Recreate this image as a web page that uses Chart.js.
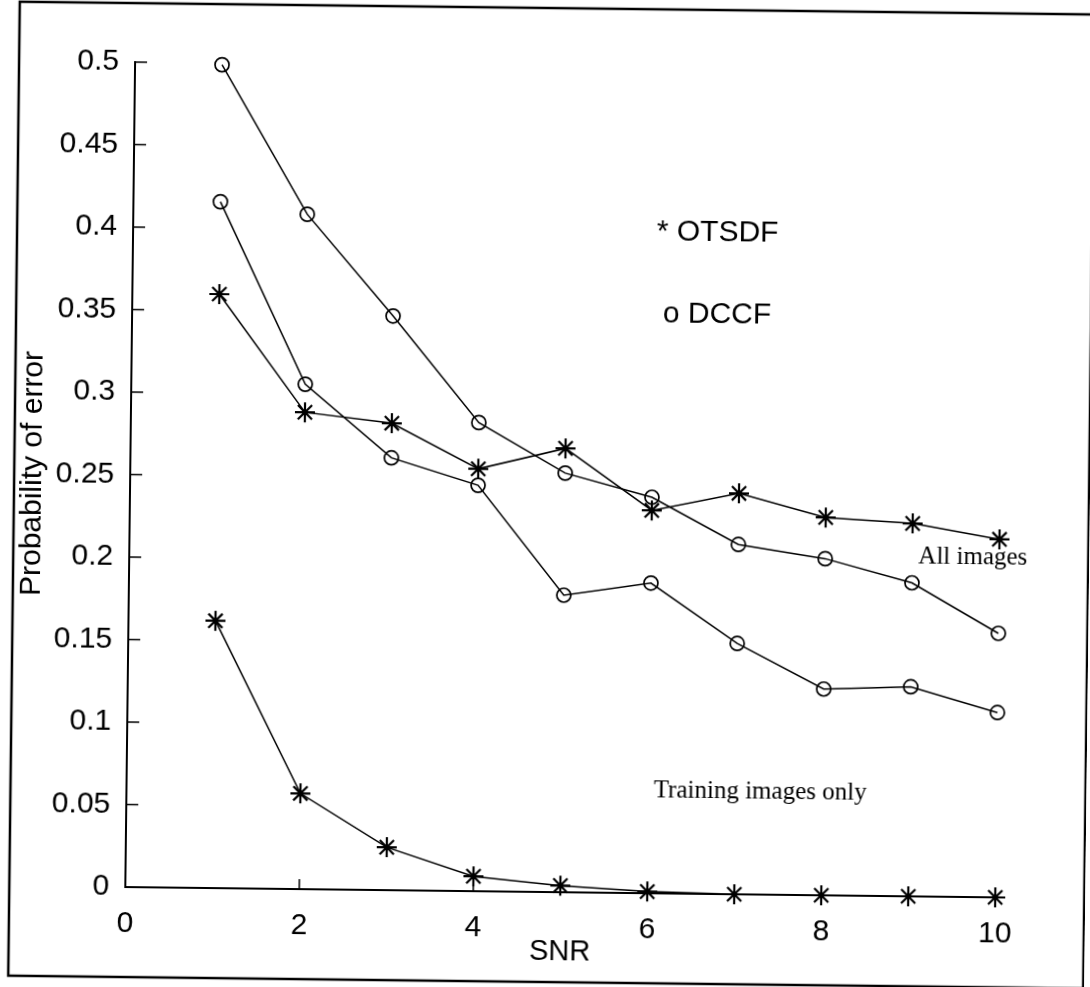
<!DOCTYPE html>
<html>
<head>
<meta charset="utf-8">
<script src="https://cdn.jsdelivr.net/npm/chart.js@4.4.1/dist/chart.umd.min.js"></script>
<style>
  html, body { margin: 0; padding: 0; background: #fff; overflow: hidden; }
  /* the scanned figure sits slightly tilted */
  #chart { display: block; transform: rotate(0.68deg); }
</style>
</head>
<body>
<canvas id="chart" width="1090" height="987"></canvas>
<script>
// SNR on the x axis
const snr = [1, 2, 3, 4, 5, 6, 7, 8, 9, 10];

// probability of error
const dccfUpper  = [0.499, 0.409, 0.348, 0.284, 0.254, 0.240, 0.212, 0.204, 0.190, 0.160];
const dccfLower  = [0.416, 0.306, 0.262, 0.246, 0.180, 0.188, 0.152, 0.125, 0.127, 0.112];
const otsdfAll   = [0.360, 0.289, 0.283, 0.256, 0.269, 0.232, 0.243, 0.229, 0.226, 0.217];
const otsdfTrain = [0.162, 0.058, 0.026, 0.009, 0.004, 0.001, 0, 0, 0, 0];

// axis ticks
const xTicks = [0, 2, 4, 6, 8, 10];
const yTicks = [0, 0.05, 0.1, 0.15, 0.2, 0.25, 0.3, 0.35, 0.4, 0.45, 0.5];
const yTickLabels = ['0', '0.05', '0.1', '0.15', '0.2', '0.25', '0.3', '0.35', '0.4', '0.45', '0.5'];

const sans = '"Liberation Sans", Arial, sans-serif';
const serif = '"Liberation Serif", "Times New Roman", serif';

function series(values, style) {
  const star = style === 'star';
  return {
    data: snr.map((x, i) => ({ x: x, y: values[i] })),
    borderColor: '#000',
    borderWidth: 1.5,
    pointStyle: style,
    pointRadius: star ? 10 : 7,
    pointBorderWidth: star ? 2.2 : 1.7,
    pointBorderColor: '#000',
    pointBackgroundColor: 'rgba(0,0,0,0)',
    tension: 0,
    clip: false
  };
}

// outer frame of the scanned figure
const framePlugin = {
  id: 'frame',
  beforeDraw(chart) {
    const ctx = chart.ctx;
    ctx.save();
    ctx.fillStyle = '#fff';
    ctx.fillRect(0, 0, chart.width, chart.height);
    ctx.strokeStyle = '#000';
    ctx.lineWidth = 2.5;
    ctx.strokeRect(14, 8, 1075, 974);
    ctx.restore();
  }
};

// tick marks pointing into the plot, plus the text notes
const extrasPlugin = {
  id: 'extras',
  afterDraw(chart) {
    const ctx = chart.ctx;
    const xs = chart.scales.x, ys = chart.scales.y;
    const a = chart.chartArea;
    ctx.save();
    ctx.strokeStyle = '#000';
    ctx.lineWidth = 1.5;
    ctx.beginPath();
    yTicks.forEach(v => {
      const y = ys.getPixelForValue(v);
      ctx.moveTo(a.left, y);
      ctx.lineTo(a.left + 12, y);
    });
    xTicks.forEach(v => {
      const x = xs.getPixelForValue(v);
      ctx.moveTo(x, a.bottom);
      ctx.lineTo(x, a.bottom - 10);
    });
    ctx.stroke();

    ctx.fillStyle = '#000';
    ctx.textBaseline = 'middle';
    ctx.textAlign = 'left';
    ctx.font = '30px ' + sans;
    ctx.fillText('* OTSDF', xs.getPixelForValue(6.02), ys.getPixelForValue(0.401));
    ctx.fillText('o DCCF', xs.getPixelForValue(6.10), ys.getPixelForValue(0.351));
    ctx.font = '25px ' + serif;
    ctx.fillText('All images', xs.getPixelForValue(9.07), ys.getPixelForValue(0.206));
    ctx.fillText('Training images only', xs.getPixelForValue(6.06), ys.getPixelForValue(0.062));
    ctx.restore();
  }
};

new Chart(document.getElementById('chart'), {
  type: 'line',
  data: {
    datasets: [
      series(dccfUpper, 'circle'),
      series(dccfLower, 'circle'),
      series(otsdfAll, 'star'),
      series(otsdfTrain, 'star')
    ]
  },
  options: {
    responsive: false,
    animation: false,
    devicePixelRatio: 1,
    layout: { padding: { left: 6, right: 90, top: 67, bottom: 10 } },
    plugins: { legend: { display: false }, tooltip: { enabled: false } },
    scales: {
      x: {
        type: 'linear',
        min: 0,
        max: 10,
        afterFit(scale) { scale.height = 85; },
        afterBuildTicks(scale) { scale.ticks = xTicks.map(v => ({ value: v })); },
        grid: { display: false },
        border: { display: true, color: '#000', width: 2 },
        ticks: {
          color: '#000',
          padding: 11,
          font: { family: sans, size: 30 },
          callback: v => String(v)
        },
        title: {
          display: true,
          text: 'SNR',
          color: '#000',
          font: { family: sans, size: 29 },
          padding: { top: 0, bottom: 8 }
        }
      },
      y: {
        min: 0,
        max: 0.5,
        afterFit(scale) { scale.width = 124; },
        afterBuildTicks(scale) { scale.ticks = yTicks.map(v => ({ value: v })); },
        grid: { display: false },
        border: { display: true, color: '#000', width: 2 },
        ticks: {
          color: '#000',
          padding: 8,
          font: { family: sans, size: 30 },
          callback: (v, i) => yTickLabels[i]
        },
        title: {
          display: true,
          text: 'Probability of error',
          color: '#000',
          font: { family: sans, size: 30 },
          padding: { top: 9, bottom: 0 }
        }
      }
    }
  },
  plugins: [framePlugin, extrasPlugin]
});
</script>
</body>
</html>
